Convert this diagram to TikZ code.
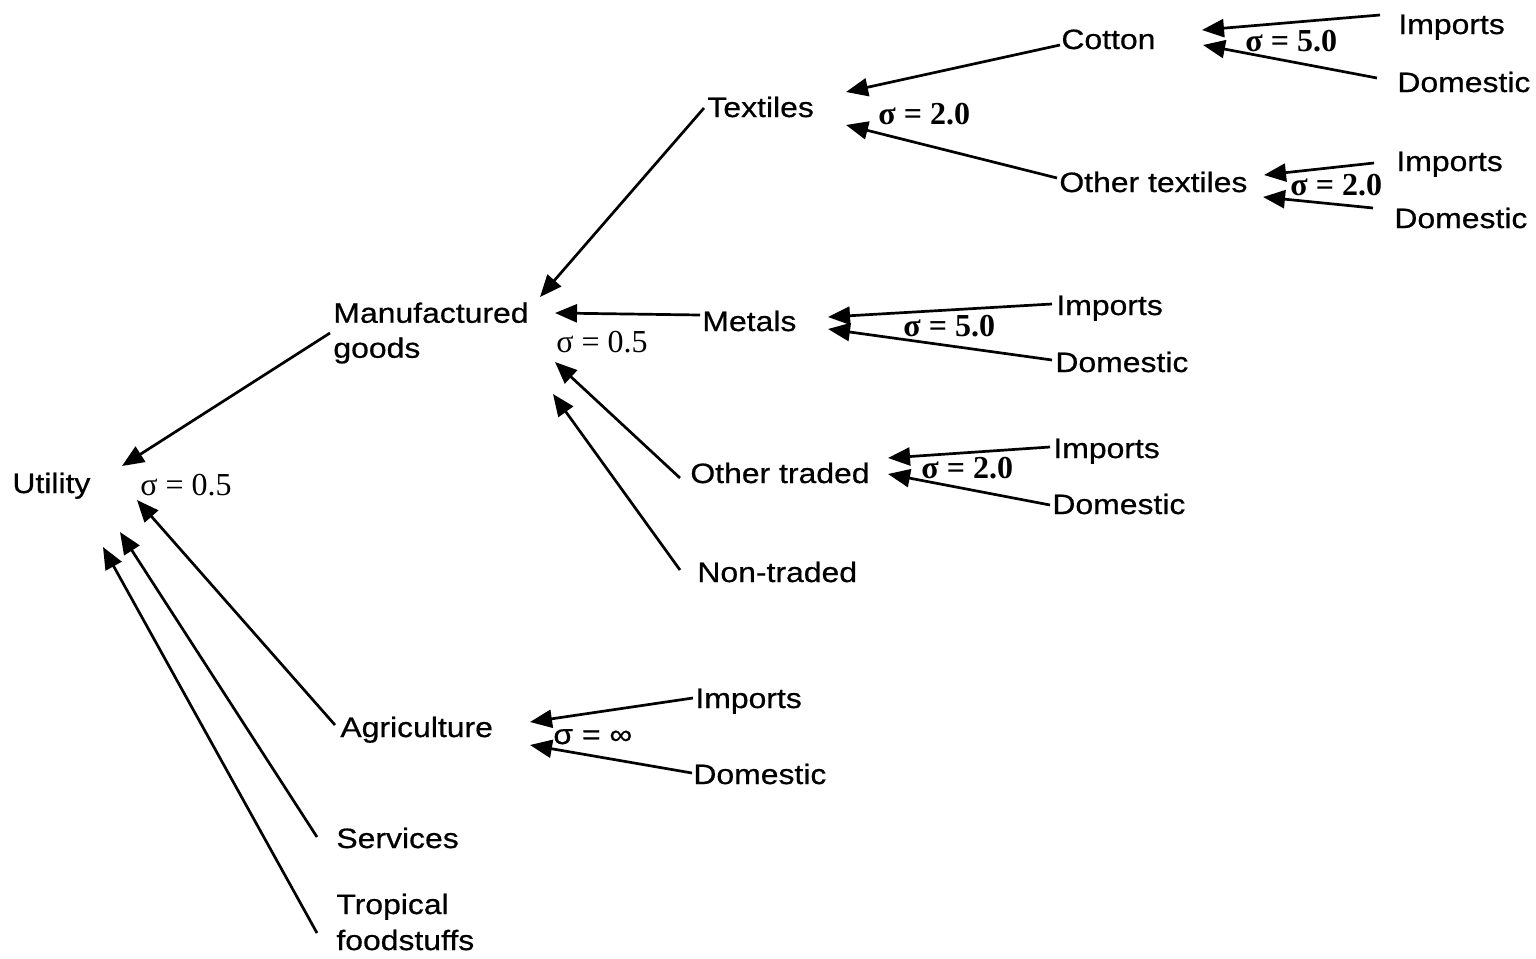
\documentclass[tikz,border=0pt]{standalone}
\usepackage{fontspec}
\setmainfont{Liberation Sans}[FakeStretch=1.14,FakeBold=0.6]
\newfontfamily\sigf{Liberation Serif}
\usetikzlibrary{arrows.meta}
\begin{document}
\begin{tikzpicture}[x=0.5pt,y=-0.5pt,
  lbl/.style={anchor=base west,inner sep=0pt,font=\fontsize{14}{17.5}\selectfont,text height=10pt,text depth=3pt},
  mlbl/.style={anchor=west,align=left,inner sep=0pt,font=\fontsize{14}{17.5}\selectfont},
  sig/.style={anchor=base west,inner sep=0pt,font=\sigf\fontsize{16}{19}\selectfont},
  sigb/.style={anchor=base west,inner sep=0pt,font=\sigf\bfseries\fontsize{16}{19}\selectfont},
  arr/.style={line width=1.35pt,-{Triangle[length=11pt,width=9pt]}}]
\useasboundingbox (0,0) rectangle (1536,958);
% labels
\node[lbl] (ut) at (12,493) {Utility};
\node[sig] (s1) at (140,495) {σ = 0.5};
\node[mlbl] (mg) at (333,333) {Manufactured\\goods};
\node[sig] (s2) at (556,352) {σ = 0.5};
\node[lbl] (tx) at (707,117) {Textiles};
\node[sigb] (s3) at (878,124) {σ = 2.0};
\node[lbl] (co) at (1061,49) {Cotton};
\node[sigb] (s4) at (1245,51) {σ = 5.0};
\node[lbl] (ci) at (1398,34) {Imports};
\node[lbl] (cd) at (1397,92) {Domestic};
\node[lbl] (ot) at (1059,192) {Other textiles};
\node[sigb] (s5) at (1290,195) {σ = 2.0};
\node[lbl] (oi) at (1396,171) {Imports};
\node[lbl] (od) at (1394,228) {Domestic};
\node[lbl] (me) at (702,331) {Metals};
\node[sigb] (s6) at (903,336) {σ = 5.0};
\node[lbl] (mi) at (1056,315) {Imports};
\node[lbl] (md) at (1055,372) {Domestic};
\node[lbl] (tr) at (690,483) {Other traded};
\node[sigb] (s7) at (921,478) {σ = 2.0};
\node[lbl] (ti) at (1053,458) {Imports};
\node[lbl] (td) at (1052,514) {Domestic};
\node[lbl] (nt) at (697,582) {Non-traded};
\node[lbl] (ag) at (340,737) {Agriculture};
\node[lbl] (s8) at (553,744) {σ = ∞};
\node[lbl] (ai) at (695,708) {Imports};
\node[lbl] (ad) at (693,784) {Domestic};
\node[lbl] (sv) at (336,848) {Services};
\node[mlbl,font=\fontsize{14}{18}\selectfont] (tf) at (336,922) {Tropical\\foodstuffs};
% arrow heads
\coordinate (hu1) at (122,466);
\coordinate (hu2) at (137,500);
\coordinate (hu3) at (120,532);
\coordinate (hu4) at (103,547);
\coordinate (hm1) at (540,297);
\coordinate (hm2) at (555,313);
\coordinate (hm3) at (555,362);
\coordinate (hm4) at (553,394);
\coordinate (ht1) at (846,92);
\coordinate (ht2) at (846,125);
\coordinate (hc1) at (1202,30);
\coordinate (hc2) at (1203,45);
\coordinate (ho1) at (1264,175);
\coordinate (ho2) at (1263,197);
\coordinate (he1) at (828,317);
\coordinate (he2) at (828,329);
\coordinate (hr1) at (888,458);
\coordinate (hr2) at (888,474);
\coordinate (ha1) at (530,722);
\coordinate (ha2) at (530,745);
% connectors
\draw[arr] ([shift={(-3,0)}]mg.west) -- (hu1);
\draw[arr] ([shift={(-5,-5)}]ag.west) -- (hu2);
\draw[arr] ([shift={(-19,-4)}]sv.west) -- (hu3);
\draw[arr] ([shift={(-19,11)}]tf.west) -- (hu4);
\draw[arr] ([shift={(-3,-2)}]tx.west) -- (hm1);
\draw[arr] ([shift={(-2,-9)}]me.west) -- (hm2);
\draw[arr] ([shift={(-10,2)}]tr.west) -- (hm3);
\draw[arr] ([shift={(-17,-5)}]nt.west) -- (hm4);
\draw[arr] ([shift={(-1,3)}]co.west) -- (ht1);
\draw[arr] ([shift={(-2,-7)}]ot.west) -- (ht2);
\draw[arr] ([shift={(-18,-12)}]ci.west) -- (hc1);
\draw[arr] ([shift={(-20,-7)}]cd.west) -- (hc2);
\draw[arr] ([shift={(-22,-1)}]oi.west) -- (ho1);
\draw[arr] ([shift={(-21,-13)}]od.west) -- (ho2);
\draw[arr] ([shift={(-4,-4)}]mi.west) -- (he1);
\draw[arr] ([shift={(-3,-5)}]md.west) -- (he2);
\draw[arr] ([shift={(-3,-4)}]ti.west) -- (hr1);
\draw[arr] ([shift={(-2,-2)}]td.west) -- (hr2);
\draw[arr] ([shift={(-2,-3)}]ai.west) -- (ha1);
\draw[arr] ([shift={(-1,-4)}]ad.west) -- (ha2);
\end{tikzpicture}
\end{document}
